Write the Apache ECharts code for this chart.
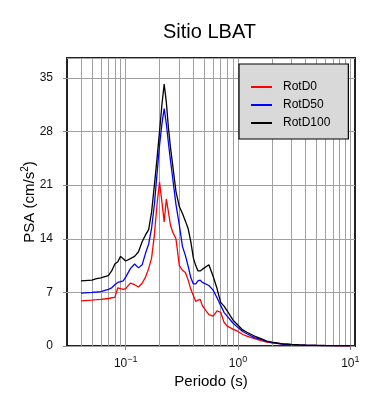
<!DOCTYPE html>
<html><head><meta charset="utf-8">
<script src="https://cdn.jsdelivr.net/npm/echarts@6/dist/echarts.min.js"></script>
<style>html,body{margin:0;padding:0;background:#fff}#c{width:390px;height:400px}</style>
</head><body><div id="c"></div>
<script>
const periods = [0.04,0.05,0.055,0.06,0.07,0.075,0.08,0.085,0.09,0.095,0.1,0.11,0.12,0.13,0.14,0.15,0.16,0.17,0.18,0.19,0.2,0.21,0.22,0.23,0.24,0.25,0.26,0.28,0.3,0.32,0.34,0.36,0.38,0.4,0.42,0.44,0.46,0.48,0.5,0.55,0.6,0.65,0.7,0.75,0.8,0.9,1.0,1.1,1.2,1.4,1.6,1.8,2.0,2.5,3.0,3.5,4.0,5.0,6.0,7.0,8.0,9.0,10.0];
const rotD0 = [5.9,6.0,6.05,6.1,6.2,6.3,6.35,7.6,7.5,7.4,7.5,8.2,8.0,7.7,8.2,9.0,10.1,11.5,14.5,18.5,21.4,18.8,16.2,19.2,17.5,15.8,15.0,14.0,10.5,9.9,9.6,8.6,7.4,6.6,5.8,6.0,6.1,5.3,4.9,4.1,3.9,4.6,4.4,3.1,2.6,2.2,1.9,1.5,1.3,0.95,0.7,0.5,0.4,0.24,0.17,0.13,0.1,0.07,0.05,0.04,0.03,0.03,0.02];
const rotD50 = [6.9,7.0,7.05,7.1,7.4,7.6,8.0,8.3,8.4,8.5,9.0,10.1,10.7,10.2,10.6,12.1,13.3,15.4,18.5,22.5,26.2,29.0,31.0,29.0,26.5,24.3,22.3,18.5,15.8,13.0,11.8,10.4,8.9,8.1,8.1,8.5,8.6,8.3,8.1,7.9,7.3,6.3,5.3,4.4,3.9,3.0,2.4,1.9,1.6,1.1,0.85,0.6,0.45,0.26,0.18,0.14,0.11,0.08,0.06,0.05,0.04,0.04,0.03];
const rotD100 = [8.5,8.6,8.8,8.9,9.2,9.8,10.7,11.0,11.7,11.4,11.1,11.4,11.7,12.3,13.6,14.5,15.2,17.5,21.0,24.5,28.0,31.5,34.2,31.8,28.5,26.0,24.0,20.2,18.2,17.3,16.3,15.3,13.6,11.5,10.5,9.8,9.8,10.0,10.2,10.6,9.1,7.5,5.7,5.2,4.6,3.4,2.7,2.1,1.8,1.3,0.95,0.65,0.5,0.28,0.2,0.15,0.12,0.09,0.07,0.06,0.05,0.04,0.04];
const seriesNames = ['RotD0','RotD50','RotD100'];
const seriesColors = ['#ff0000','#0000ff','#000000'];
const yTicks = [0,7,14,21,28,35];
const xDecades = [-1,0,1];

const FONT = "'Liberation Sans', Arial, sans-serif";
const gridVals = [];
for (let d = -2; d <= 1; d++) {
  for (let m = 1; m <= 9; m++) {
    const v = m * Math.pow(10, d);
    if (v > 0.031 && v < 10.9) gridVals.push(+v.toPrecision(3));
  }
}

const chart = echarts.init(document.getElementById('c'), null, {renderer:'canvas'});
const allSeries = [rotD0, rotD50, rotD100].map((arr, i) => ({
  name: seriesNames[i], type:'line', symbol:'none', showSymbol:false,
  data: periods.map((p, k) => [p, arr[k]]),
  lineStyle:{color:seriesColors[i], width:1.3}, itemStyle:{color:seriesColors[i]},
  z: 3, silent:true
}));
allSeries.unshift({
  type:'line', data:[], silent:true, z:1,
  markLine:{silent:true, z:1, symbol:['none','none'], label:{show:false}, animation:false,
    lineStyle:{color:'#a0a0a0', width:1, type:'solid'}, emphasis:{disabled:true},
    data: gridVals.map(v => ({xAxis:v}))}
});

chart.setOption({
  animation:false,
  textStyle:{fontFamily:FONT},
  title:{text:'Sitio LBAT', left:163, top:22, padding:0,
    textStyle:{fontFamily:FONT, fontSize:20, fontWeight:'normal', color:'#000'}},
  legend:{data:seriesNames.map(n => ({name:n, icon:'rect'})), orient:'vertical', left:239, top:64, padding:[17,18,10,12],
    itemGap:6, itemWidth:21, itemHeight:2,
    backgroundColor:'#d9d9d9', borderColor:'#000', borderWidth:1.2,
    textStyle:{fontFamily:FONT, fontSize:12, color:'#000', padding:[0,0,0,6]}},
  grid:{left:67, right:35, top:58, bottom:54, show:true, borderColor:'#222', borderWidth:2, backgroundColor:'transparent', containLabel:false},
  xAxis:{type:'log', logBase:10, min:0.03, max:11,
    axisLine:{show:false}, splitLine:{show:false},
    axisTick:{show:true, length:4, lineStyle:{color:'#888'}},
    axisLabel:{margin:9, showMinLabel:false, showMaxLabel:false, color:'#111', fontFamily:FONT, fontSize:12,
      formatter:function(v){
        const e = Math.round(Math.log10(v));
        if (Math.abs(Math.log10(v) - e) > 1e-6 || xDecades.indexOf(e) < 0) return '';
        return '{b|10}{s|' + (e < 0 ? '\u2212' + (-e) : e) + '}';
      },
      rich:{b:{fontSize:12, fontFamily:FONT, color:'#111'}, s:{fontSize:9, fontFamily:FONT, color:'#111', padding:[0,0,8,0]}}},
    name:'Periodo (s)', nameLocation:'middle', nameGap:28, nameMoveOverlap:false,
    nameTextStyle:{fontSize:15, fontFamily:FONT, color:'#000'}},
  yAxis:{type:'value', min:0, max:37.6, interval:7,
    axisLine:{show:false},
    axisTick:{show:true, length:4, lineStyle:{color:'#888'}},
    splitLine:{show:true, lineStyle:{color:'#a0a0a0', width:1}},
    axisLabel:{margin:14, showMaxLabel:false, color:'#111', fontFamily:FONT, fontSize:12,
      formatter:function(v){ return yTicks.indexOf(v) >= 0 ? String(v) : ''; }},
    name:'PSA (cm/s{s|2})', nameLocation:'middle', nameRotate:90, nameGap:28, nameMoveOverlap:false,
    nameTextStyle:{fontSize:15, fontFamily:FONT, color:'#000',
      rich:{s:{fontSize:10, fontFamily:FONT, color:'#000', padding:[0,0,9,0]}}}},
  series: allSeries
});
</script>
</body></html>
